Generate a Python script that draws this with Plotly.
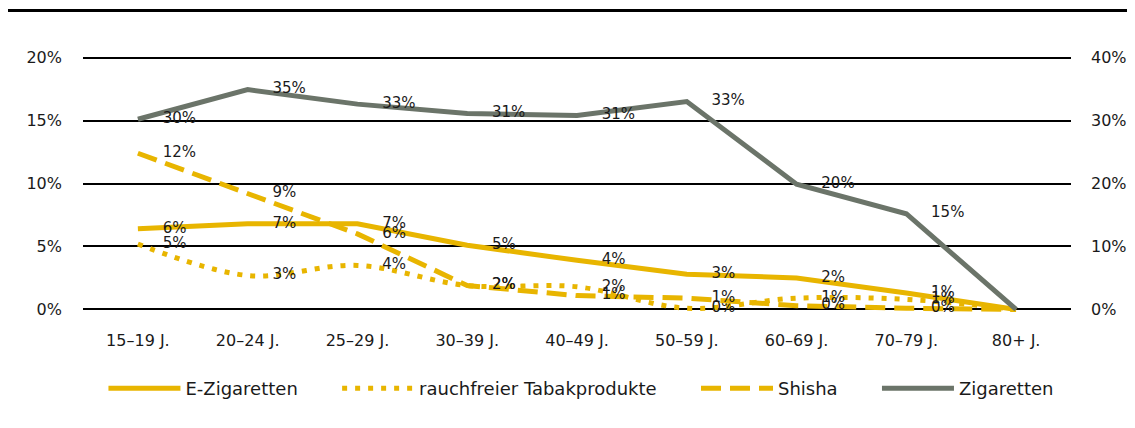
import plotly.graph_objects as go

# Data
age_groups = ['15–19 J.', '20–24 J.', '25–29 J.', '30–39 J.', '40–49 J.',
              '50–59 J.', '60–69 J.', '70–79 J.', '80+ J.']
e_zig = [6.4, 6.8, 6.8, 5.1, 3.9, 2.8, 2.5, 1.3, 0.0]
rauchfrei = [5.2, 2.7, 3.5, 1.9, 1.8, 0.1, 0.9, 0.8, 0.0]
shisha = [12.4, 9.2, 6.0, 1.9, 1.1, 0.9, 0.3, 0.1, 0.0]
zigaretten = [30.2, 34.9, 32.6, 31.1, 30.8, 33.0, 19.9, 15.2, 0.0]

left_ticks = [0, 5, 10, 15, 20]
right_ticks = [0, 10, 20, 30, 40]

yellow = '#E8B500'
grey = '#6B7469'
pad = '\u00a0' * 6  # extra room between legend entries


def labels(values):
    # no label on the last point (80+)
    return ['{:.0f}%'.format(v) for v in values[:-1]] + ['']


# invisible markers push the value labels a bit to the right of the points
ghost = dict(size=38, color='rgba(0,0,0,0)')

fig = go.Figure()

fig.add_trace(go.Scatter(
    name='E-Zigaretten' + pad, x=age_groups, y=e_zig,
    mode='lines+markers+text', text=labels(e_zig), textposition='middle right',
    line=dict(color=yellow, width=5),
    marker=ghost,
    cliponaxis=False
))

fig.add_trace(go.Scatter(
    name='rauchfreier Tabakprodukte' + pad, x=age_groups, y=rauchfrei,
    mode='lines+markers+text', text=labels(rauchfrei), textposition='middle right',
    line=dict(color=yellow, width=5, dash='5px,8px', shape='spline'),
    marker=ghost,
    cliponaxis=False
))

fig.add_trace(go.Scatter(
    name='Shisha' + pad, x=age_groups, y=shisha,
    mode='lines+markers+text', text=labels(shisha), textposition='middle right',
    line=dict(color=yellow, width=5, dash='20px,9px'),
    marker=ghost,
    cliponaxis=False
))

fig.add_trace(go.Scatter(
    name='Zigaretten', x=age_groups, y=zigaretten, yaxis='y2',
    mode='lines+markers+text', text=labels(zigaretten), textposition='middle right',
    line=dict(color=grey, width=5),
    marker=ghost,
    cliponaxis=False
))

# page body has an 8px margin, so margins are shifted to compensate
fig.update_layout(
    width=1135,
    height=428,
    plot_bgcolor='#ffffff',
    paper_bgcolor='#ffffff',
    font=dict(family='DejaVu Sans', size=15, color='#1a1a1a'),
    margin=dict(l=75, r=72, t=47, b=124, autoexpand=False),
    showlegend=True,
    legend=dict(
        orientation='h',
        x=0.504, xanchor='center',
        y=-0.298, yanchor='middle',
        font=dict(size=18),
        itemwidth=72,
        tracegroupgap=0
    ),
    xaxis=dict(
        type='category',
        range=[-0.5, 8.5],
        showgrid=False,
        showline=False,
        zeroline=False,
        ticks='',
        tickfont=dict(size=16),
        ticklabelstandoff=17
    ),
    yaxis=dict(
        range=[-0.2, 20.2],
        tickvals=left_ticks,
        ticktext=['{}%'.format(t) for t in left_ticks],
        tickfont=dict(size=16),
        gridcolor='#000000',
        gridwidth=1.5,
        zeroline=False,
        showline=False,
        ticks='',
        ticklabelstandoff=20
    ),
    yaxis2=dict(
        range=[-0.4, 40.4],
        tickvals=right_ticks,
        ticktext=['{}%'.format(t) for t in right_ticks],
        tickfont=dict(size=16),
        overlaying='y',
        side='right',
        showgrid=False,
        zeroline=False,
        showline=False,
        ticks='',
        ticklabelstandoff=19
    ),
    shapes=[dict(
        type='line', xref='paper', yref='paper',
        x0=-0.076, x1=1.08, y0=1.173, y1=1.173,
        line=dict(color='#000000', width=3)
    )]
)

fig.write_html("out.html")
